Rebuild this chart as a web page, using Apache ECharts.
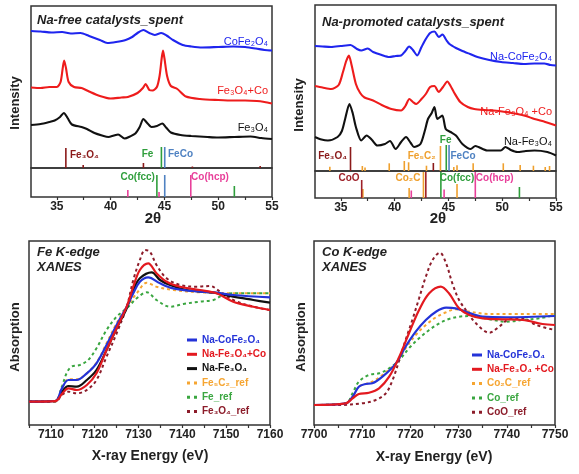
<!DOCTYPE html>
<html><head><meta charset="utf-8">
<script src="https://cdn.jsdelivr.net/npm/echarts@6/dist/echarts.min.js"></script>
<style>html,body{margin:0;padding:0;background:#fff}#c{width:579px;height:474px}</style>
</head><body><div id="c"></div>
<script>
// ---------- XRD tick values ----------
const xrdLabelValues = [35, 40, 45, 50, 55];
const xrdTickValues = [35, 37.5, 40, 42.5, 45, 47.5, 50, 52.5, 55];

// ---------- XRD patterns: Na-free (offset intensities) ----------
const freeCoFe2O4 = [[32.6,137],[33.5,136.5],[34.5,135.5],[35.5,136],[36.3,134.5],[37.2,135],[38,132],[39,128],[39.7,125],[40.5,126],[41.4,128],[42,131],[42.5,135],[43.05,138],[43.6,135],[44.1,133],[44.7,135],[45.2,132.5],[45.8,128],[46.7,123],[47.5,121.5],[48.5,120.5],[50,121],[51.4,121.5],[52.5,121],[53.5,119.5],[54.3,118],[55,117.5]];
const freeFe3O4Co = [[32.6,80.5],[33.5,80],[34.3,81],[35.0,81],[35.35,86],[35.55,100],[35.68,107.5],[35.85,100],[36.1,86],[36.6,81],[37.3,80],[38,76.5],[39,72],[40,69.5],[41,70.5],[41.6,71],[42.5,75],[43.0,80],[43.25,84],[43.6,78],[43.9,77.5],[44.3,81],[44.55,92],[44.75,110],[44.87,117.5],[45.0,110],[45.25,92],[45.6,82],[46.2,79],[47,71.5],[48.3,69],[50,68],[51.4,67.5],[52.5,67.5],[53.6,67],[54.3,66],[55,64.5]];
const freeFe3O4 = [[32.6,43],[33.5,44],[34.3,46],[34.8,47.5],[35.3,51],[35.65,55],[36.0,50],[36.4,43.5],[37.3,41],[37.8,39],[38.5,35],[39.2,32.5],[39.8,31],[40.3,32.5],[40.7,33.5],[41.3,29.5],[41.8,31.5],[42.3,34.5],[42.7,41],[43.05,49],[43.4,45],[43.8,41],[44.3,42],[44.8,44.5],[45.2,40],[45.6,35.5],[46.5,33],[47.5,32],[49,31],[50,30.5],[51.5,31],[53,31.5],[54,30],[55,29]];

// ---------- XRD patterns: Na-promoted ----------
const naCoFe2O4 = [[32.6,125],[33.3,124.5],[34.1,124],[35,125],[35.9,126],[36.5,122],[36.9,120.5],[37.5,122.5],[38.0,119],[38.8,116],[39.5,114],[40.1,115],[40.6,115.5],[41.0,120],[41.35,124.5],[41.7,121],[42.1,115.5],[42.5,124],[42.9,132],[43.3,138],[43.7,139.5],[44.1,134],[44.45,136.5],[44.8,131],[45.1,127],[45.7,123],[46.2,120.5],[47,117],[47.7,114],[48.8,111],[49.9,109],[51,108],[52,107],[53,107.5],[53.9,107.5],[54.5,106],[55,105.5]];
const naFe3O4Co = [[32.6,85],[33.3,83.5],[34.1,82],[34.8,86],[35.2,99],[35.5,110],[35.75,115.5],[36.0,106],[36.4,87],[36.8,78],[37.2,73.5],[38,70.5],[38.8,66],[39.7,62],[40.6,60.5],[41.0,65],[41.37,72],[41.7,69],[42.0,67],[42.5,72],[42.9,77],[43.3,84],[43.7,85],[44.1,79],[44.5,84],[44.9,89.5],[45.2,85],[45.5,79],[46.1,69],[46.8,64],[47.4,62],[48.3,61],[49.2,60.5],[50.3,59],[51.4,57],[52.2,55],[53,52],[54,49],[55,45.5]];
const naFe3O4 = [[32.6,34],[33.2,31.5],[33.8,30.5],[34.7,34],[35.1,40],[35.4,52],[35.8,67],[36.1,58],[36.4,44],[36.9,30.5],[37.4,35.5],[37.9,31],[38.4,25.5],[39.1,27],[39.57,30],[40.1,22],[40.6,29],[41.06,34],[41.5,28],[41.8,24],[42.4,27],[42.8,40],[43.1,52],[43.45,58],[43.7,64],[43.97,52],[44.43,55.5],[44.75,42],[45.2,39],[45.7,35.5],[46.3,27],[47.07,22],[47.5,25],[47.8,24],[48.6,20.5],[49.86,20.5],[50.3,24],[50.8,21],[51.4,19],[52.2,20],[53,20.5],[54.2,19],[55,15.5]];

// ---------- reference sticks [2theta, height] ----------
const freeStickFe3O4 = [[35.84,20],[37.45,3],[43.05,5],[47.6,1.5],[53.9,2]];
const freeStickFe = [[44.72,21]];
const freeStickFeCo = [[45.03,21]];
const freeSubCoFcc = [[44.3,22],[51.5,11]];
const freeSubFeCo = [[45.03,22]];
const freeSubCoHcp = [[41.6,7],[44.5,5],[47.45,22]];

const naStickFe3O4 = [[35.9,24],[43.6,8]];
const naStickFe5C2 = [[33.98,4.3],[37.0,5],[37.25,3.5],[39.5,7.7],[40.9,10],[41.3,8.7],[42.96,5.3],[44.26,25],[45.5,4],[45.8,5.7],[47.3,7.7],[50.1,7.7],[51.67,6],[52.9,5.3],[54.0,4],[54.4,5]];
const naStickFe = [[44.8,26]];
const naStickFeCo = [[45.06,26]];
const naSubCoO = [[36.94,18],[42.9,26]];
const naSubCo2C = [[37.05,9],[41.35,10],[42.68,26],[45.8,14]];
const naSubCoFcc = [[44.3,26],[51.6,11]];
const naSubCoHcp = [[41.55,7.5],[44.6,8.5],[47.5,26]];

// ---------- Fe K-edge XANES ----------
const feTickLabels = [7110, 7120, 7130, 7140, 7150, 7160];
const feNaCoFe2O4 = [[7105,23.3],[7111,24],[7112.5,36.7],[7114,45],[7115.9,45],[7118.2,51.7],[7120.4,61.7],[7122.7,80],[7125,100],[7127.3,118.3],[7128.8,131.7],[7130.3,143.3],[7132.2,147.7],[7134.9,141.7],[7137.9,136.7],[7144,133.3],[7147.8,132.3],[7151.6,130],[7160,127.7]];
const feNaFe3O4Co = [[7105,23.3],[7111,23.8],[7112.5,31],[7114,36.7],[7115.9,35],[7118.2,40],[7120.4,51.7],[7122.7,75],[7125,96.7],[7127.3,118.3],[7128.8,138.3],[7130.3,155],[7132.2,161.7],[7134.1,151.7],[7136.4,143.3],[7139.5,138.3],[7144,135],[7147.8,131.7],[7151.6,123.3],[7156.2,118.3],[7160,115]];
const feNaFe3O4 = [[7105,23.3],[7111,24],[7112.5,33.3],[7114,39],[7115.9,38.3],[7118.2,45],[7120.4,55],[7122.7,75],[7125,96.7],[7127.3,116.7],[7128.8,135],[7130.3,146.7],[7133,152.7],[7134.9,145],[7137.2,140],[7141,135],[7147,132.3],[7151.6,128.3],[7156.2,125],[7160,122.3]];
const feFe5C2Ref = [[7105,23.3],[7111,24],[7112.5,36.7],[7114,45.7],[7115.9,45.7],[7118.2,51.7],[7120.4,62.3],[7122.7,81.7],[7125,101.7],[7127.3,118.3],[7129.6,131.7],[7131.9,142.3],[7134.1,138.3],[7137.9,135],[7144,132.7],[7151.6,131.7],[7160,131.7]];
const feFeRef = [[7105,23.3],[7110.9,23.5],[7112.5,38.3],[7113.6,52],[7114.7,58.3],[7116.6,60],[7118.5,65],[7120.4,76.7],[7122.7,95],[7125,108.3],[7127.3,116.7],[7129.6,126.7],[7131.9,132.7],[7134.1,125],[7137.2,118.3],[7140.2,121],[7144,123.3],[7147.1,125],[7149.3,130],[7151.6,131.7],[7160,131.7]];
const feFe3O4Ref = [[7105,23.3],[7111,23.5],[7112.5,30],[7114,33.3],[7115.9,31.7],[7118.2,35],[7120.4,45],[7122.7,68.3],[7125,91.7],[7127.3,118.3],[7128.8,145],[7130.3,165],[7131.5,175],[7132.6,173.3],[7134.1,160],[7136.4,146.7],[7139.5,140],[7143.3,138.3],[7146.3,139],[7148.6,133.3],[7151.6,125],[7156.2,118.3],[7160,115]];

// ---------- Co K-edge XANES ----------
const coTickLabels = [7700, 7710, 7720, 7730, 7740, 7750];
const coNaCoFe2O4 = [[7700,20],[7706.6,21.7],[7708,28.3],[7709.3,38.3],[7710.7,41],[7712.1,41.7],[7714.2,48.3],[7717,61.7],[7719,78.3],[7721.1,93.3],[7723.2,105],[7725.3,113.3],[7727.4,117.3],[7729.4,116.7],[7731.5,113.3],[7735,108.3],[7739.8,107.7],[7750,109]];
const coNaFe3O4Co = [[7700,20],[7706.6,21.7],[7708,26.7],[7709.3,31],[7711.4,32.3],[7713.5,36.7],[7715.6,48.3],[7717.7,68.3],[7719.7,91.7],[7721.8,115],[7723.9,131.7],[7726.3,138.3],[7728,131.7],[7730.1,116.7],[7732.2,110],[7735,106.7],[7739.1,105.7],[7743.3,105],[7747.4,101],[7750,100]];
const coCo2CRef = [[7700,20],[7706.6,21.7],[7708,28.3],[7709.3,38.3],[7710.7,41],[7712.1,43.3],[7714.2,50],[7717,61.7],[7719,76.7],[7721.1,90],[7723.2,100],[7725.3,107.7],[7727.4,112.7],[7729.4,115.7],[7731.5,114],[7736.4,111],[7750,111]];
const coCoRef = [[7700,20],[7706.6,21.7],[7708,31.7],[7709.3,43.3],[7711.4,50],[7713.5,51.7],[7715.6,56.7],[7717.7,65],[7719.7,76.7],[7721.8,86.7],[7723.9,95],[7726,101.7],[7728,106],[7730.1,108.3],[7732.9,109],[7736.4,105.7],[7739.8,103.3],[7743.3,105],[7746.8,106.7],[7750,110]];
const coCoORef = [[7700,20],[7705.2,20],[7710,21.7],[7712.8,25],[7714.9,31.7],[7716.3,45],[7717.7,65],[7719,85],[7720.4,105],[7721.8,126.7],[7723.2,148.3],[7724.6,165],[7726.1,172.3],[7727.4,161.7],[7728.7,141.7],[7730.1,125],[7731.5,115],[7733.6,101.7],[7736.4,92.3],[7738.4,98.3],[7740.5,105.7],[7743.3,106.7],[7746.1,100],[7750,95]];

// ---------- colours ----------
const C = {
  blue:'#1f25ee', red:'#ee1c1c', black:'#111111',
  xBlue:'#2433d8', xRed:'#e3191f', orange:'#f6a531', green:'#3aa640', dred:'#8c1c2a',
  sFe3O4:'#8b1a1a', sFe:'#2f9e3c', sFeCo:'#4f82c2', sHcp:'#e8409a', sOrange:'#efa02e', sCoO:'#9e2028'
};
const FONT = '"Liberation Sans", Arial, sans-serif';
const ICON_SOLID = 'path://M0,0h10v3h-10z';
const ICON_DOT = 'path://M0,0h3v3h-3z M7,0h3v3h-3z';

const chart = echarts.init(document.getElementById('c'), null, {renderer:'canvas'});

function stickRender(params, api) {
  const x = api.value(0), h = api.value(1);
  const p0 = api.coord([x, 0]), p1 = api.coord([x, h]);
  return {type:'line', shape:{x1:p0[0], y1:p0[1], x2:p1[0], y2:p1[1]},
          style:{stroke: api.visual('color'), lineWidth:1.6}};
}
function sticks(name, data, color, gi) {
  return {type:'custom', name, data, xAxisIndex:gi, yAxisIndex:gi, renderItem:stickRender,
          itemStyle:{color}, silent:true, clip:true};
}
function xrdLine(name, data, color, gi) {
  return {type:'line', name, data, xAxisIndex:gi, yAxisIndex:gi, symbol:'none', smooth:0.25,
          lineStyle:{color, width:2.1}, itemStyle:{color}, silent:true};
}
function xanes(name, data, color, gi, dashed) {
  return {type:'line', name, data, xAxisIndex:gi, yAxisIndex:gi, symbol:'none', smooth:0.35,
          lineStyle:{color, width: dashed ? 2 : 2.2, type: dashed ? [3,3] : 'solid'},
          itemStyle:{color}, silent:true};
}

const tickLabelStyle = {fontFamily:FONT, fontSize:12, fontWeight:'bold', color:'#222'};

function xrdX(gi, shown) {
  return {type:'value', gridIndex:gi, min:32.6, max:55,
    axisLine:{show:false}, splitLine:{show:false},
    axisTick: shown ? {show:true, customValues:xrdTickValues, length:3, lineStyle:{color:'#333', width:1.2}} : {show:false},
    axisLabel: shown ? Object.assign({show:true, customValues:xrdLabelValues, margin:4}, tickLabelStyle) : {show:false}};
}
function xanesX(gi, min, max, labels) {
  return {type:'value', gridIndex:gi, min, max, interval:5,
    axisLine:{show:false}, splitLine:{show:false},
    axisTick:{show:true, length:3, lineStyle:{color:'#333', width:1.2}},
    axisLabel:Object.assign({show:true, margin:4, formatter:v => labels.indexOf(v) >= 0 ? String(v) : ''}, tickLabelStyle)};
}
function yAx(gi, max) { return {type:'value', gridIndex:gi, min:0, max, show:false}; }

const gridBase = {show:true, borderColor:'#333', borderWidth:1.5, backgroundColor:'transparent'};

function txt(text, x, y, opt) {
  opt = opt || {};
  return {type:'text', x, y, rotation: opt.rot || 0, z:50, silent:true,
    style:{text, fill: opt.color || '#222', align: opt.align || 'center', verticalAlign:'middle',
      font: (opt.style || '') + ' ' + (opt.weight || 'bold') + ' ' + (opt.size || 12) + 'px ' + FONT}};
}
function legItem(name, color, dotted) {
  return {name, icon: dotted ? ICON_DOT : ICON_SOLID, itemStyle:{color}, textStyle:{color}};
}
const legendBase = {orient:'vertical', itemWidth:10, itemHeight:3, itemGap:2.3, padding:0, selectedMode:false,
  textStyle:{fontFamily:FONT, fontSize:10, fontWeight:'bold', lineHeight:12}};

const option = {
  animation:false,
  backgroundColor:'#ffffff',
  grid:[
    Object.assign({left:31, top:6, width:241, height:162}, gridBase),
    Object.assign({left:31, top:168, width:241, height:29}, gridBase),
    Object.assign({left:315, top:5, width:241, height:166}, gridBase),
    Object.assign({left:315, top:171, width:241, height:27}, gridBase),
    Object.assign({left:29, top:241, width:241, height:184}, gridBase),
    Object.assign({left:314, top:241, width:241, height:184}, gridBase)
  ],
  xAxis:[ xrdX(0,false), xrdX(1,true), xrdX(2,false), xrdX(3,true),
          xanesX(4,7105,7160,feTickLabels), xanesX(5,7700,7750,coTickLabels) ],
  yAxis:[ yAx(0,162), yAx(1,29), yAx(2,166), yAx(3,27), yAx(4,184), yAx(5,184) ],
  legend:[
    Object.assign({left:187, top:334, data:[
      legItem('Na-CoFe₂O₄', C.xBlue, false),
      legItem('Na-Fe₃O₄+Co', C.xRed, false),
      legItem('Na-Fe₃O₄', C.black, false),
      legItem('Fe₅C₂_ref', C.orange, true),
      legItem('Fe_ref', C.green, true),
      legItem('Fe₃O₄_ref', C.dred, true)
    ]}, legendBase),
    Object.assign({left:472, top:349, data:[
      legItem('Na-CoFe₂O₄ ', C.xBlue, false),
      legItem('Na-Fe₃O₄ +Co', C.xRed, false),
      legItem('Co₂C_ref', C.orange, true),
      legItem('Co_ref', C.green, true),
      legItem('CoO_ref', C.dred, true)
    ]}, legendBase)
  ],
  series:[
    xrdLine('xrd CoFe2O4', freeCoFe2O4, C.blue, 0),
    xrdLine('xrd Fe3O4+Co', freeFe3O4Co, C.red, 0),
    xrdLine('xrd Fe3O4', freeFe3O4, C.black, 0),
    sticks('s1', freeStickFe3O4, C.sFe3O4, 0),
    sticks('s2', freeStickFe, C.sFe, 0),
    sticks('s3', freeStickFeCo, C.sFeCo, 0),
    sticks('s4', freeSubCoFcc, C.sFe, 1),
    sticks('s5', freeSubFeCo, C.sFeCo, 1),
    sticks('s6', freeSubCoHcp, C.sHcp, 1),

    xrdLine('xrd Na-CoFe2O4', naCoFe2O4, C.blue, 2),
    xrdLine('xrd Na-Fe3O4+Co', naFe3O4Co, C.red, 2),
    xrdLine('xrd Na-Fe3O4', naFe3O4, C.black, 2),
    sticks('t1', naStickFe5C2, C.sOrange, 2),
    sticks('t2', naStickFe3O4, C.sFe3O4, 2),
    sticks('t3', naStickFe, C.sFe, 2),
    sticks('t4', naStickFeCo, C.sFeCo, 2),
    sticks('t5', naSubCo2C, C.sOrange, 3),
    sticks('t6', naSubCoO, C.sCoO, 3),
    sticks('t7', naSubCoFcc, C.sFe, 3),
    sticks('t8', naSubCoHcp, C.sHcp, 3),

    xanes('Fe₅C₂_ref', feFe5C2Ref, C.orange, 4, true),
    xanes('Fe_ref', feFeRef, C.green, 4, true),
    xanes('Fe₃O₄_ref', feFe3O4Ref, C.dred, 4, true),
    xanes('Na-Fe₃O₄', feNaFe3O4, C.black, 4, false),
    xanes('Na-CoFe₂O₄', feNaCoFe2O4, C.xBlue, 4, false),
    xanes('Na-Fe₃O₄+Co', feNaFe3O4Co, C.xRed, 4, false),

    xanes('Co₂C_ref', coCo2CRef, C.orange, 5, true),
    xanes('Co_ref', coCoRef, C.green, 5, true),
    xanes('CoO_ref', coCoORef, C.dred, 5, true),
    xanes('Na-CoFe₂O₄ ', coNaCoFe2O4, C.xBlue, 5, false),
    xanes('Na-Fe₃O₄ +Co', coNaFe3O4Co, C.xRed, 5, false)
  ],
  graphic:[
    txt('Na-free catalysts_spent', 37, 20, {align:'left', style:'italic', size:13}),
    txt('Na-promoted catalysts_spent', 322, 22, {align:'left', style:'italic', size:13}),
    txt('Fe K-edge', 37, 252, {align:'left', style:'italic', size:13}),
    txt('XANES', 37, 267, {align:'left', style:'italic', size:13}),
    txt('Co K-edge', 322, 252, {align:'left', style:'italic', size:13}),
    txt('XANES', 322, 267, {align:'left', style:'italic', size:13}),

    txt('2θ', 153, 219, {size:15}),
    txt('2θ', 438, 219, {size:15}),
    txt('X-ray Energy (eV)', 150, 456, {size:14}),
    txt('X-ray Energy (eV)', 434, 457, {size:14}),
    txt('Intensity', 15, 103, {size:13, rot:Math.PI/2}),
    txt('Intensity', 299, 105, {size:13, rot:Math.PI/2}),
    txt('Absorption', 15, 337, {size:13, rot:Math.PI/2}),
    txt('Absorption', 301, 337, {size:13, rot:Math.PI/2}),

    txt('CoFe₂O₄', 268, 42, {align:'right', color:C.blue, weight:'normal', size:11}),
    txt('Fe₃O₄+Co', 268, 91, {align:'right', color:C.red, weight:'normal', size:11}),
    txt('Fe₃O₄', 268, 128, {align:'right', color:C.black, weight:'normal', size:11}),
    txt('Na-CoFe₂O₄', 552, 57, {align:'right', color:C.blue, weight:'normal', size:11}),
    txt('Na-Fe₃O₄ +Co', 552, 112, {align:'right', color:C.red, weight:'normal', size:11}),
    txt('Na-Fe₃O₄', 552, 142, {align:'right', color:C.black, weight:'normal', size:11}),

    txt('Fe₃O₄', 70, 155, {align:'left', color:C.sFe3O4, size:10}),
    txt('Fe', 147.5, 154, {color:C.sFe, size:10}),
    txt('FeCo', 168, 154, {align:'left', color:C.sFeCo, size:10}),
    txt('Co(fcc)', 137.7, 177, {color:C.sFe, size:10}),
    txt('Co(hcp)', 210, 177, {color:C.sHcp, size:10}),
    txt('Fe₃O₄', 347, 156, {align:'right', color:C.sFe3O4, size:10}),
    txt('Fe₅C₂', 421.7, 156, {color:C.sOrange, size:10}),
    txt('Fe', 445.7, 140, {color:C.sFe, size:10}),
    txt('FeCo', 463, 156, {color:C.sFeCo, size:10}),
    txt('CoO', 349, 178, {color:C.sCoO, size:10}),
    txt('Co₂C', 408, 178, {color:C.sOrange, size:10}),
    txt('Co(fcc)', 457, 178, {color:C.sFe, size:10}),
    txt('Co(hcp)', 494.7, 178, {color:C.sHcp, size:10})
  ]
};
chart.setOption(option);
</script></body></html>
